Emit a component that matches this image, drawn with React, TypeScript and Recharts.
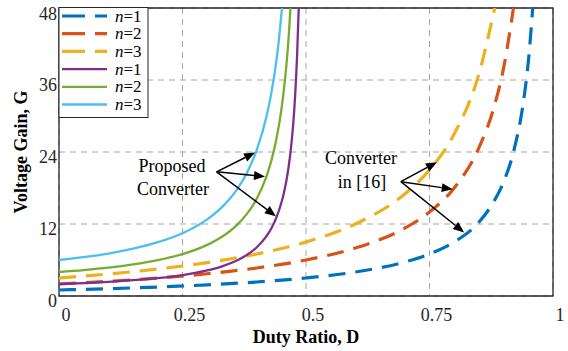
import {
  CartesianGrid,
  Line,
  LineChart,
  ReferenceArea,
  ReferenceLine,
  XAxis,
  YAxis,
} from "recharts";

// duty ratio / gain pairs
const dutyTicks = [0, 0.25, 0.5, 0.75, 1];
const gainTicks = [0, 12, 24, 36, 48];

const ref16N1: Array<[number, number]> = [
  [0, 1], [0.1, 1.22], [0.2, 1.5], [0.3, 1.86], [0.4, 2.33], [0.5, 3],
  [0.6, 4], [0.7, 5.67], [0.75, 7], [0.8, 9], [0.85, 12.3], [0.88, 15.7],
  [0.9, 19], [0.92, 24], [0.94, 32.3], [0.95, 39], [0.959, 48],
];
const ref16N2: Array<[number, number]> = [
  [0, 2], [0.1, 2.44], [0.2, 3], [0.3, 3.71], [0.4, 4.67], [0.5, 6],
  [0.6, 8], [0.7, 11.3], [0.75, 14], [0.8, 18], [0.85, 24.7], [0.88, 31.3],
  [0.9, 38], [0.92, 48],
];
const ref16N3: Array<[number, number]> = [
  [0, 3], [0.1, 3.67], [0.2, 4.5], [0.3, 5.57], [0.4, 7], [0.5, 9],
  [0.6, 12], [0.7, 17], [0.75, 21], [0.8, 27], [0.85, 37], [0.882, 48],
];
const proposedN1: Array<[number, number]> = [
  [0, 2], [0.05, 2.16], [0.1, 2.36], [0.15, 2.63], [0.2, 2.99], [0.25, 3.49],
  [0.3, 4.26], [0.33, 4.94], [0.36, 5.91], [0.38, 6.82], [0.4, 8.09],
  [0.42, 9.97], [0.43, 11.3], [0.44, 13.06], [0.45, 15.49], [0.455, 17.1],
  [0.46, 19.09], [0.465, 21.63], [0.47, 24.98], [0.474, 28.54], [0.478, 33.35],
  [0.482, 40.17], [0.4853, 48],
];
const proposedN2: Array<[number, number]> = [
  [0, 4], [0.05, 4.32], [0.1, 4.72], [0.15, 5.26], [0.2, 5.98], [0.25, 6.98],
  [0.3, 8.52], [0.33, 9.88], [0.36, 11.82], [0.38, 13.64], [0.4, 16.18],
  [0.42, 19.94], [0.43, 22.6], [0.44, 26.12], [0.45, 30.98], [0.455, 34.2],
  [0.46, 38.18], [0.465, 43.26], [0.4686, 48],
];
const proposedN3: Array<[number, number]> = [
  [0, 6], [0.05, 6.48], [0.1, 7.08], [0.15, 7.89], [0.2, 8.97], [0.25, 10.47],
  [0.3, 12.78], [0.33, 14.82], [0.36, 17.73], [0.38, 20.46], [0.4, 24.27],
  [0.42, 29.91], [0.43, 33.9], [0.44, 39.18], [0.445, 42.6], [0.4513, 48],
];

// arrow annotations, [from, to] in (D, G)
const proposedArrows: Array<[[number, number], [number, number]]> = [
  [[0.319, 20.7], [0.397, 23.9]],
  [[0.319, 20.7], [0.417, 19.9]],
  [[0.319, 20.7], [0.439, 13.3]],
];
const ref16Arrows: Array<[[number, number], [number, number]]> = [
  [[0.692, 19.05], [0.765, 22.3]],
  [[0.692, 19.05], [0.797, 17.8]],
  [[0.692, 19.05], [0.82, 10.6]],
];

const toPoints = (pairs: Array<[number, number]>) =>
  pairs.map(([d, g]) => ({ d, g }));

const series = [
  { key: "r1", label: "1", data: ref16N1, color: "#0072BD", dashed: true },
  { key: "r2", label: "2", data: ref16N2, color: "#D95319", dashed: true },
  { key: "r3", label: "3", data: ref16N3, color: "#EDB120", dashed: true },
  { key: "p1", label: "1", data: proposedN1, color: "#7E2F8E", dashed: false },
  { key: "p2", label: "2", data: proposedN2, color: "#77AC30", dashed: false },
  { key: "p3", label: "3", data: proposedN3, color: "#4DBEEE", dashed: false },
];

const FONT = "'Liberation Serif', 'Times New Roman', serif";
const INK = "#262626";

function DutyTick({ x, y, payload }: any) {
  return (
    <text x={x + 7} y={y + 25} textAnchor="middle" fill={INK} fontSize={18} fontFamily={FONT}>
      {payload.value}
    </text>
  );
}

function GainTick({ x, y, payload }: any) {
  return (
    <text x={x - 2} y={y + 11} textAnchor="end" fill={INK} fontSize={18} fontFamily={FONT}>
      {payload.value}
    </text>
  );
}

function ArrowShape(props: any) {
  const { x1, y1, x2, y2 } = props;
  const angle = Math.atan2(y2 - y1, x2 - x1);
  const len = 11;
  const half = 4.5;
  const bx = x2 - len * Math.cos(angle);
  const by = y2 - len * Math.sin(angle);
  const px = -Math.sin(angle) * half;
  const py = Math.cos(angle) * half;
  return (
    <g>
      <line x1={x1} y1={y1} x2={bx} y2={by} stroke="#000" strokeWidth={1.5} />
      <polygon points={`${x2},${y2} ${bx + px},${by + py} ${bx - px},${by - py}`} fill="#000" />
    </g>
  );
}

export default function App() {
  return (
    <div style={{ position: "absolute", left: 0, top: 0, width: 568, height: 351, background: "#fff" }}>
      <LineChart width={568} height={351} margin={{ top: 8, right: 15, bottom: 25, left: 29 }}>
        <CartesianGrid stroke="#a6a6a6" strokeDasharray="6 5" />
        <XAxis
          dataKey="d"
          type="number"
          domain={[0, 1]}
          ticks={dutyTicks}
          allowDataOverflow
          axisLine={false}
          tickLine={false}
          tickSize={0}
          tickMargin={0}
          height={30}
          tick={<DutyTick />}
        />
        <YAxis
          type="number"
          domain={[0, 48]}
          ticks={gainTicks}
          allowDataOverflow
          axisLine={false}
          tickLine={false}
          tickSize={0}
          tickMargin={0}
          width={30}
          tick={<GainTick />}
        />
        <ReferenceArea x1={0} x2={1} y1={0} y2={48} fill="none" stroke={INK} strokeWidth={1.3} />
        {series.map((s) => (
          <Line
            key={s.key}
            data={toPoints(s.data)}
            dataKey="g"
            type="monotone"
            dot={false}
            activeDot={false}
            stroke={s.color}
            strokeWidth={s.dashed ? 3.2 : 2.3}
            strokeDasharray={s.dashed ? "17 10" : undefined}
            isAnimationActive={false}
          />
        ))}
        {[...proposedArrows, ...ref16Arrows].map(([from, to], i) => (
          <ReferenceLine
            key={i}
            segment={[{ x: from[0], y: from[1] }, { x: to[0], y: to[1] }]}
            shape={ArrowShape}
          />
        ))}
      </LineChart>
      <svg
        width={568}
        height={351}
        style={{ position: "absolute", left: 0, top: 0, pointerEvents: "none" }}
        fontFamily={FONT}
      >
        <text x={172} y={172} textAnchor="middle" fontSize={18} fill="#000">Proposed</text>
        <text x={173} y={195} textAnchor="middle" fontSize={18} fill="#000">Converter</text>
        <text x={361} y={164} textAnchor="middle" fontSize={18} fill="#000">Converter</text>
        <text x={362} y={188} textAnchor="middle" fontSize={18} fill="#000">in [16]</text>

        <text x={306} y={343} textAnchor="middle" fontSize={18} fontWeight="bold" fill="#000">
          Duty Ratio, D
        </text>
        <text
          x={0}
          y={0}
          transform="translate(27,152) rotate(-90)"
          textAnchor="middle"
          fontSize={18}
          fontWeight="bold"
          fill="#000"
        >
          Voltage Gain, G
        </text>

        <rect x={59} y={7.5} width={89} height={110} fill="#fff" stroke={INK} strokeWidth={1} />
        {series.map((s, i) => {
          const cy = 16 + i * 17.7;
          return (
            <g key={s.key}>
              <line
                x1={62}
                x2={107}
                y1={cy}
                y2={cy}
                stroke={s.color}
                strokeWidth={s.dashed ? 3.2 : 2.3}
                strokeDasharray={s.dashed ? "23 10" : undefined}
              />
              <text x={115} y={cy + 5.5} fontSize={17} fill="#000">
                <tspan fontStyle="italic">n</tspan>=
                {s.label}
              </text>
            </g>
          );
        })}
      </svg>
    </div>
  );
}
